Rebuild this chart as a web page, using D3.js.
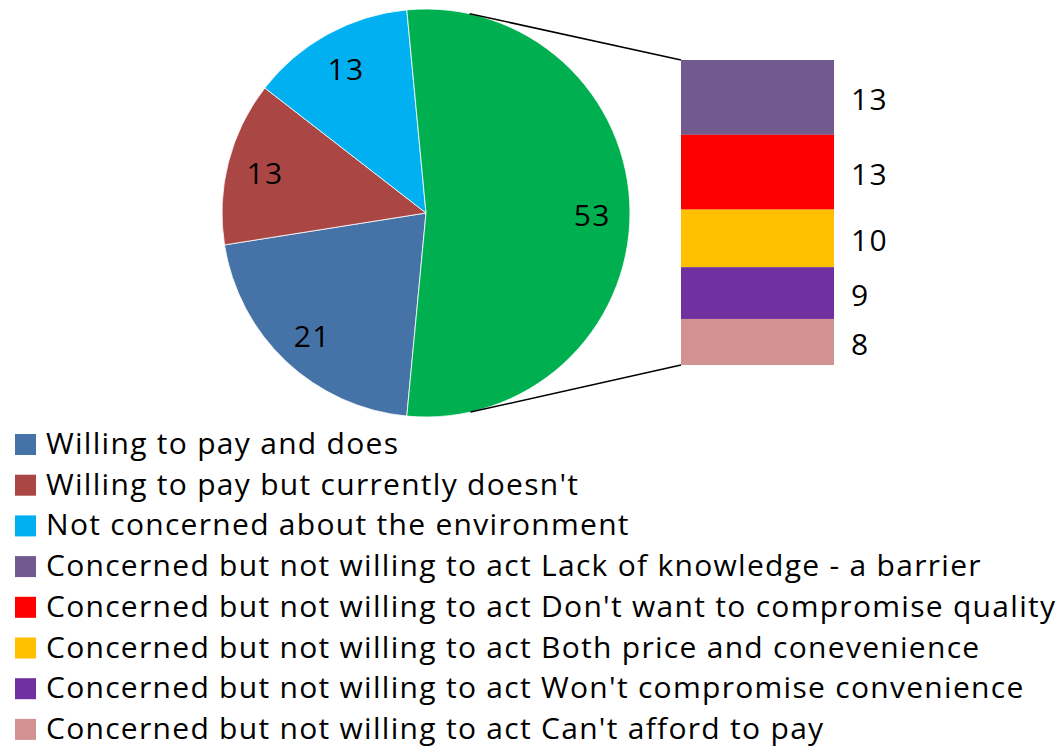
<!DOCTYPE html>
<html>
<head>
<meta charset="utf-8">
<script src="https://cdn.jsdelivr.net/npm/d3@7"></script>
<style>
  body { margin: 0; background: #fff; }
  svg { display: block; font-family: "Open Sans", sans-serif; }
</style>
</head>
<body>
<svg width="1059" height="748"></svg>
<script>
// pie slices (the last pie slice is the sum of the bar)
var pieCategories = ["Willing to pay and does", "Willing to pay but currently doesn't", "Not concerned about the environment"];
var pieValues = [21, 13, 13];
var pieColors = ["#4572a7", "#aa4643", "#00b0f0"];
var otherColor = "#00b050";

// breakdown bar
var barCategories = [
    "Concerned but not willing to act Lack of knowledge - a barrier",
    "Concerned but not willing to act Don't want to compromise quality",
    "Concerned but not willing to act Both price and conevenience",
    "Concerned but not willing to act Won't compromise convenience",
    "Concerned but not willing to act Can't afford to pay"
];
var barValues = [13, 13, 10, 9, 8];
var barColors = ["#725a8f", "#ff0000", "#ffc000", "#7030a0", "#d39292"];

var svg = d3.select("svg"),
    cx = 426, cy = 213, r = 204,
    bar = {x: 681, w: 153, top: 60, bottom: 365};

var otherValue = d3.sum(barValues);
var slices = pieValues.map(function(v, i) { return {name: pieCategories[i], value: v, color: pieColors[i]}; });
slices.push({name: "other", value: otherValue, color: otherColor});

var total = d3.sum(slices, function(d) { return d.value; });
var otherAngle = otherValue / total * 2 * Math.PI;
var start = Math.PI / 2 + otherAngle / 2;   // other slice centred on the right side

var legendItems = pieCategories.map(function(c, i) { return {name: c, color: pieColors[i]}; })
    .concat(barCategories.map(function(c, i) { return {name: c, color: barColors[i]}; }));

// Open Sans is wider than the original face, so keep the cap height and
// stretch the longest legend line with letter spacing to the original width
var fs = 30;
var longest = d3.greatest(legendItems, function(d) { return d.name.length; }).name;
var probe = svg.append("text").attr("font-size", fs).text(longest);
var ls = Math.max(0, (1009 - probe.node().getComputedTextLength()) / (longest.length - 1));
probe.remove();

var pie = d3.pie().sort(null).value(function(d) { return d.value; })
    .startAngle(start).endAngle(start + 2 * Math.PI);
var arc = d3.arc().innerRadius(0).outerRadius(r);
var labelArc = d3.arc().innerRadius(r * 0.815).outerRadius(r * 0.815);

var g = svg.append("g").attr("transform", "translate(" + cx + "," + cy + ")");

var arcs = pie(slices);
g.selectAll("path")
    .data(arcs)
  .enter().append("path")
    .attr("d", arc)
    .attr("fill", function(d) { return d.data.color; })
    .attr("stroke", "#fff")
    .attr("stroke-width", 0.8);

g.selectAll("text")
    .data(arcs)
  .enter().append("text")
    .attr("x", function(d) { return labelArc.centroid(d)[0]; })
    .attr("y", function(d) { return labelArc.centroid(d)[1] + fs * 0.36 + 2; })
    .attr("text-anchor", "middle")
    .attr("font-size", fs)
    .attr("letter-spacing", ls)
    .attr("fill", "#000")
    .text(function(d) { return d.value; });

// stacked bar
var y = d3.scaleLinear().domain([0, otherValue]).range([bar.top, bar.bottom]);
var stack = [], acc = 0;
barValues.forEach(function(v, i) { stack.push({v: v, y0: acc, y1: acc + v, color: barColors[i]}); acc += v; });

svg.selectAll("rect.seg")
    .data(stack)
  .enter().append("rect")
    .attr("class", "seg")
    .attr("x", bar.x)
    .attr("width", bar.w)
    .attr("y", function(d) { return y(d.y0); })
    .attr("height", function(d) { return y(d.y1) - y(d.y0); })
    .attr("fill", function(d) { return d.color; });

svg.selectAll("text.seg")
    .data(stack)
  .enter().append("text")
    .attr("class", "seg")
    .attr("x", bar.x + bar.w + 17)
    .attr("y", function(d) { return (y(d.y0) + y(d.y1)) / 2 + fs * 0.36 + 2; })
    .attr("font-size", fs)
    .attr("letter-spacing", ls)
    .text(function(d) { return d.v; });

// connector lines: tangents from bar corners to the pie
function tangent(px, py, side) {
    var dx = px - cx, dy = py - cy, d = Math.sqrt(dx * dx + dy * dy);
    var a = Math.atan2(dy, dx) + side * Math.acos(r / d);
    return [cx + r * Math.cos(a), cy + r * Math.sin(a)];
}
[[bar.top, -1], [bar.bottom, 1]].forEach(function(c) {
    var t = tangent(bar.x, c[0], c[1]);
    svg.append("line")
        .attr("x1", t[0]).attr("y1", t[1])
        .attr("x2", bar.x).attr("y2", c[0])
        .attr("stroke", "#000")
        .attr("stroke-width", 1.5);
});

// legend
var legend = svg.selectAll("g.legend")
    .data(legendItems)
  .enter().append("g")
    .attr("class", "legend")
    .attr("transform", function(d, i) { return "translate(15," + (434 + i * 40.7) + ")"; });

legend.append("rect")
    .attr("width", 21).attr("height", 21)
    .attr("fill", function(d) { return d.color; });

legend.append("text")
    .attr("x", 31)
    .attr("y", 20)
    .attr("font-size", fs)
    .attr("letter-spacing", ls)
    .text(function(d) { return d.name; });
</script>
</body>
</html>
